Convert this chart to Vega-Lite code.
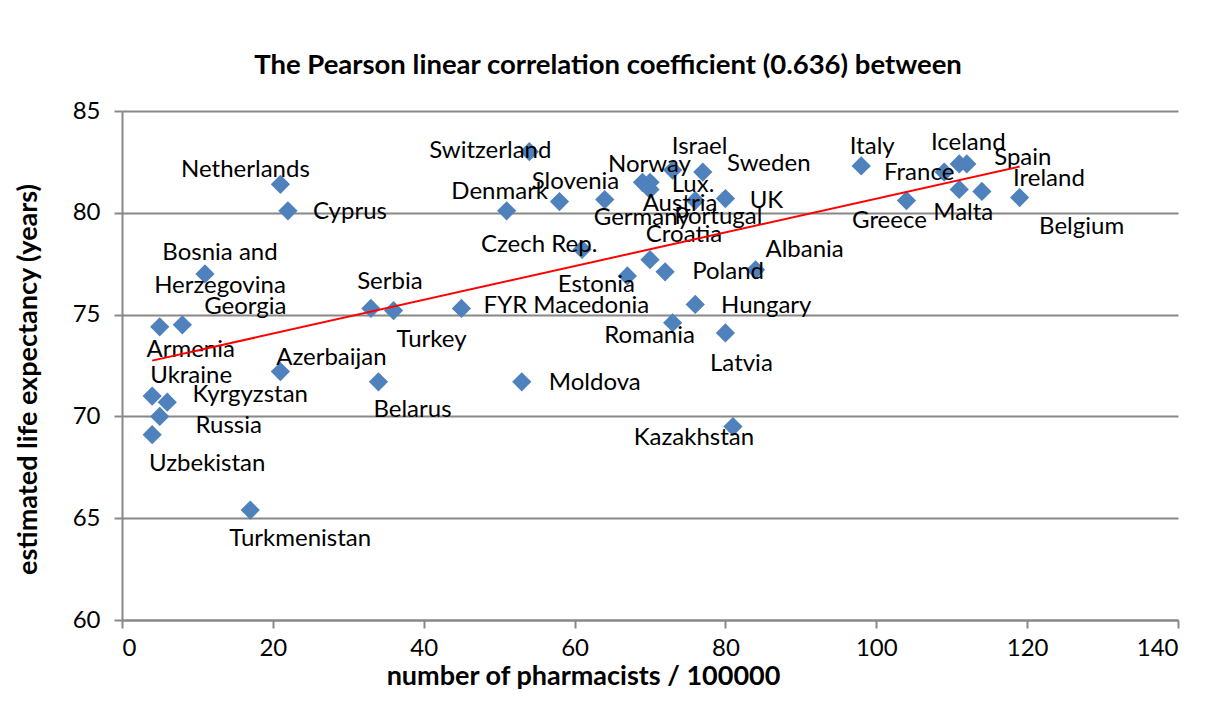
{
  "$schema": "https://vega.github.io/schema/vega-lite/v6.json",
  "autosize": {"type": "none"},
  "padding": {"left": 122, "top": 111, "right": 38, "bottom": 89},
  "width": 1056,
  "height": 509,
  "background": "white",
  "title": {"text": "The Pearson linear correlation coefficient (0.636) between", "anchor": "middle", "dx": -42, "offset": 20, "font": "Lato", "fontSize": 27.5, "fontWeight": "bold", "color": "black"},
  "config": {
    "view": {"stroke": null},
    "text": {"font": "Lato", "fontSize": 24, "color": "black", "align": "center", "baseline": "middle"},
    "axis": {"labelFont": "Lato", "labelFontSize": 24, "labelColor": "black", "titleFont": "Lato", "titleFontSize": 27, "titleFontWeight": "bold", "titleColor": "black", "domainColor": "#888888", "domainWidth": 2, "tickColor": "#888888", "tickWidth": 2, "tickSize": 8, "gridColor": "#888888", "gridWidth": 2}
  },
  "datasets": {
    "countries": [
      {"country": "Netherlands", "pharmacists": 21, "life": 81.4},
      {"country": "Cyprus", "pharmacists": 22, "life": 80.1},
      {"country": "Bosnia and\nHerzegovina", "pharmacists": 11, "life": 77.0},
      {"country": "Georgia", "pharmacists": 8, "life": 74.5},
      {"country": "Armenia", "pharmacists": 5, "life": 74.4},
      {"country": "Ukraine", "pharmacists": 4, "life": 71.0},
      {"country": "Kyrgyzstan", "pharmacists": 6, "life": 70.7},
      {"country": "Russia", "pharmacists": 5, "life": 70.0},
      {"country": "Uzbekistan", "pharmacists": 4, "life": 69.1},
      {"country": "Turkmenistan", "pharmacists": 17, "life": 65.4},
      {"country": "Azerbaijan", "pharmacists": 21, "life": 72.2},
      {"country": "Serbia", "pharmacists": 33, "life": 75.3},
      {"country": "Turkey", "pharmacists": 36, "life": 75.2},
      {"country": "Belarus", "pharmacists": 34, "life": 71.7},
      {"country": "FYR Macedonia", "pharmacists": 45, "life": 75.3},
      {"country": "Moldova", "pharmacists": 53, "life": 71.7},
      {"country": "Switzerland", "pharmacists": 54, "life": 83.0},
      {"country": "Denmark", "pharmacists": 51, "life": 80.1},
      {"country": "Slovenia", "pharmacists": 58, "life": 80.55},
      {"country": "Czech Rep.", "pharmacists": 61, "life": 78.2},
      {"country": "Estonia", "pharmacists": 67, "life": 76.9},
      {"country": "Germany", "pharmacists": 64, "life": 80.65},
      {"country": "Croatia", "pharmacists": 70, "life": 77.7},
      {"country": "Poland", "pharmacists": 72, "life": 77.1},
      {"country": "Albania", "pharmacists": 84, "life": 77.2},
      {"country": "Hungary", "pharmacists": 76, "life": 75.5},
      {"country": "Romania", "pharmacists": 73, "life": 74.6},
      {"country": "Latvia", "pharmacists": 80, "life": 74.1},
      {"country": "Kazakhstan", "pharmacists": 81, "life": 69.5},
      {"country": "Norway", "pharmacists": 69, "life": 81.5},
      {"country": "Israel", "pharmacists": 73, "life": 82.1},
      {"country": "Sweden", "pharmacists": 77, "life": 82.0},
      {"country": "Lux.", "pharmacists": 70, "life": 81.5},
      {"country": "Austria", "pharmacists": 70, "life": 81.15},
      {"country": "Portugal", "pharmacists": 76, "life": 80.6},
      {"country": "UK", "pharmacists": 80, "life": 80.7},
      {"country": "Italy", "pharmacists": 98, "life": 82.3},
      {"country": "Greece", "pharmacists": 104, "life": 80.6},
      {"country": "France", "pharmacists": 109, "life": 82.0},
      {"country": "Iceland", "pharmacists": 111, "life": 82.4},
      {"country": "Spain", "pharmacists": 112, "life": 82.4},
      {"country": "Malta", "pharmacists": 111, "life": 81.15},
      {"country": "Ireland", "pharmacists": 114, "life": 81.05},
      {"country": "Belgium", "pharmacists": 119, "life": 80.75}
    ],
    "trend": [
      {"pharmacists": 4, "life": 72.74},
      {"pharmacists": 119, "life": 82.27}
    ]
  },
  "data": {"name": "countries"},
  "encoding": {
    "x": {"field": "pharmacists", "type": "quantitative", "scale": {"domain": [0, 140], "nice": false}, "axis": {"values": [0, 20, 40, 60, 80, 100, 120, 140], "grid": false, "labelPadding": 8, "title": "number of pharmacists / 100000", "titleX": 461, "titleY": 56, "titleBaseline": "middle", "titleAnchor": null}},
    "y": {"field": "life", "type": "quantitative", "scale": {"domain": [60, 85], "nice": false, "zero": false}, "axis": {"values": [60, 65, 70, 75, 80, 85], "grid": true, "labelPadding": 14, "title": "estimated life expectancy (years)", "titleX": -94, "titleY": 268, "titleAngle": -90, "titleAlign": "center", "titleBaseline": "middle"}}
  },
  "layer": [
    {"mark": {"type": "point", "shape": "diamond", "filled": true, "size": 370, "color": "#4F81BD", "opacity": 1}},
    {"transform": [{"filter": "datum.country === 'Netherlands'"}], "mark": {"type": "text", "dx": -35, "dy": -14}, "encoding": {"text": {"field": "country"}}},
    {"transform": [{"filter": "datum.country === 'Cyprus'"}], "mark": {"type": "text", "dx": 62, "dy": 1}, "encoding": {"text": {"field": "country"}}},
    {"transform": [{"filter": "datum.pharmacists === 11"}], "mark": {"type": "text", "dx": 15, "dy": -21, "lineBreak": "\n", "lineHeight": 33}, "encoding": {"text": {"field": "country"}}},
    {"transform": [{"filter": "datum.country === 'Georgia'"}], "mark": {"type": "text", "dx": 63, "dy": -18}, "encoding": {"text": {"field": "country"}}},
    {"transform": [{"filter": "datum.country === 'Armenia'"}], "mark": {"type": "text", "dx": 31, "dy": 23}, "encoding": {"text": {"field": "country"}}},
    {"transform": [{"filter": "datum.country === 'Ukraine'"}], "mark": {"type": "text", "dx": 39, "dy": -20}, "encoding": {"text": {"field": "country"}}},
    {"transform": [{"filter": "datum.country === 'Kyrgyzstan'"}], "mark": {"type": "text", "dx": 83, "dy": -7}, "encoding": {"text": {"field": "country"}}},
    {"transform": [{"filter": "datum.country === 'Russia'"}], "mark": {"type": "text", "dx": 69, "dy": 10}, "encoding": {"text": {"field": "country"}}},
    {"transform": [{"filter": "datum.country === 'Uzbekistan'"}], "mark": {"type": "text", "dx": 55, "dy": 29}, "encoding": {"text": {"field": "country"}}},
    {"transform": [{"filter": "datum.country === 'Turkmenistan'"}], "mark": {"type": "text", "dx": 50, "dy": 29}, "encoding": {"text": {"field": "country"}}},
    {"transform": [{"filter": "datum.country === 'Azerbaijan'"}], "mark": {"type": "text", "dx": 51, "dy": -14}, "encoding": {"text": {"field": "country"}}},
    {"transform": [{"filter": "datum.country === 'Serbia'"}], "mark": {"type": "text", "dx": 19, "dy": -26}, "encoding": {"text": {"field": "country"}}},
    {"transform": [{"filter": "datum.country === 'Turkey'"}], "mark": {"type": "text", "dx": 38, "dy": 29}, "encoding": {"text": {"field": "country"}}},
    {"transform": [{"filter": "datum.country === 'Belarus'"}], "mark": {"type": "text", "dx": 34, "dy": 28}, "encoding": {"text": {"field": "country"}}},
    {"transform": [{"filter": "datum.country === 'FYR Macedonia'"}], "mark": {"type": "text", "dx": 105, "dy": -2}, "encoding": {"text": {"field": "country"}}},
    {"transform": [{"filter": "datum.country === 'Moldova'"}], "mark": {"type": "text", "dx": 73, "dy": 1}, "encoding": {"text": {"field": "country"}}},
    {"transform": [{"filter": "datum.country === 'Switzerland'"}], "mark": {"type": "text", "dx": -39, "dy": -1}, "encoding": {"text": {"field": "country"}}},
    {"transform": [{"filter": "datum.country === 'Denmark'"}], "mark": {"type": "text", "dx": -7, "dy": -19}, "encoding": {"text": {"field": "country"}}},
    {"transform": [{"filter": "datum.country === 'Slovenia'"}], "mark": {"type": "text", "dx": 16, "dy": -20}, "encoding": {"text": {"field": "country"}}},
    {"transform": [{"filter": "datum.country === 'Czech Rep.'"}], "mark": {"type": "text", "dx": -43, "dy": -4}, "encoding": {"text": {"field": "country"}}},
    {"transform": [{"filter": "datum.country === 'Estonia'"}], "mark": {"type": "text", "dx": -31, "dy": 9}, "encoding": {"text": {"field": "country"}}},
    {"transform": [{"filter": "datum.country === 'Germany'"}], "mark": {"type": "text", "dx": 37, "dy": 18}, "encoding": {"text": {"field": "country"}}},
    {"transform": [{"filter": "datum.country === 'Croatia'"}], "mark": {"type": "text", "dx": 34, "dy": -25}, "encoding": {"text": {"field": "country"}}},
    {"transform": [{"filter": "datum.country === 'Poland'"}], "mark": {"type": "text", "dx": 63, "dy": 0}, "encoding": {"text": {"field": "country"}}},
    {"transform": [{"filter": "datum.country === 'Albania'"}], "mark": {"type": "text", "dx": 49, "dy": -20}, "encoding": {"text": {"field": "country"}}},
    {"transform": [{"filter": "datum.country === 'Hungary'"}], "mark": {"type": "text", "dx": 71, "dy": 2}, "encoding": {"text": {"field": "country"}}},
    {"transform": [{"filter": "datum.country === 'Romania'"}], "mark": {"type": "text", "dx": -23, "dy": 13}, "encoding": {"text": {"field": "country"}}},
    {"transform": [{"filter": "datum.country === 'Latvia'"}], "mark": {"type": "text", "dx": 16, "dy": 31}, "encoding": {"text": {"field": "country"}}},
    {"transform": [{"filter": "datum.country === 'Kazakhstan'"}], "mark": {"type": "text", "dx": -39, "dy": 11}, "encoding": {"text": {"field": "country"}}},
    {"transform": [{"filter": "datum.country === 'Norway'"}], "mark": {"type": "text", "dx": 7, "dy": -17}, "encoding": {"text": {"field": "country"}}},
    {"transform": [{"filter": "datum.country === 'Israel'"}], "mark": {"type": "text", "dx": 27, "dy": -23}, "encoding": {"text": {"field": "country"}}},
    {"transform": [{"filter": "datum.country === 'Sweden'"}], "mark": {"type": "text", "dx": 66, "dy": -8}, "encoding": {"text": {"field": "country"}}},
    {"transform": [{"filter": "datum.country === 'Lux.'"}], "mark": {"type": "text", "dx": 43, "dy": 3}, "encoding": {"text": {"field": "country"}}},
    {"transform": [{"filter": "datum.country === 'Austria'"}], "mark": {"type": "text", "dx": 30, "dy": 15}, "encoding": {"text": {"field": "country"}}},
    {"transform": [{"filter": "datum.country === 'Portugal'"}], "mark": {"type": "text", "dx": 23, "dy": 16}, "encoding": {"text": {"field": "country"}}},
    {"transform": [{"filter": "datum.country === 'UK'"}], "mark": {"type": "text", "dx": 41, "dy": 2}, "encoding": {"text": {"field": "country"}}},
    {"transform": [{"filter": "datum.country === 'Italy'"}], "mark": {"type": "text", "dx": 11, "dy": -19}, "encoding": {"text": {"field": "country"}}},
    {"transform": [{"filter": "datum.country === 'Greece'"}], "mark": {"type": "text", "dx": -17, "dy": 20}, "encoding": {"text": {"field": "country"}}},
    {"transform": [{"filter": "datum.country === 'France'"}], "mark": {"type": "text", "dx": -25, "dy": 1}, "encoding": {"text": {"field": "country"}}},
    {"transform": [{"filter": "datum.country === 'Iceland'"}], "mark": {"type": "text", "dx": 9, "dy": -21}, "encoding": {"text": {"field": "country"}}},
    {"transform": [{"filter": "datum.country === 'Spain'"}], "mark": {"type": "text", "dx": 56, "dy": -6}, "encoding": {"text": {"field": "country"}}},
    {"transform": [{"filter": "datum.country === 'Malta'"}], "mark": {"type": "text", "dx": 4, "dy": 24}, "encoding": {"text": {"field": "country"}}},
    {"transform": [{"filter": "datum.country === 'Ireland'"}], "mark": {"type": "text", "dx": 67, "dy": -12}, "encoding": {"text": {"field": "country"}}},
    {"transform": [{"filter": "datum.country === 'Belgium'"}], "mark": {"type": "text", "dx": 62, "dy": 29}, "encoding": {"text": {"field": "country"}}},
    {"data": {"name": "trend"}, "mark": {"type": "line", "color": "#FF0000", "strokeWidth": 2}}
  ]
}
